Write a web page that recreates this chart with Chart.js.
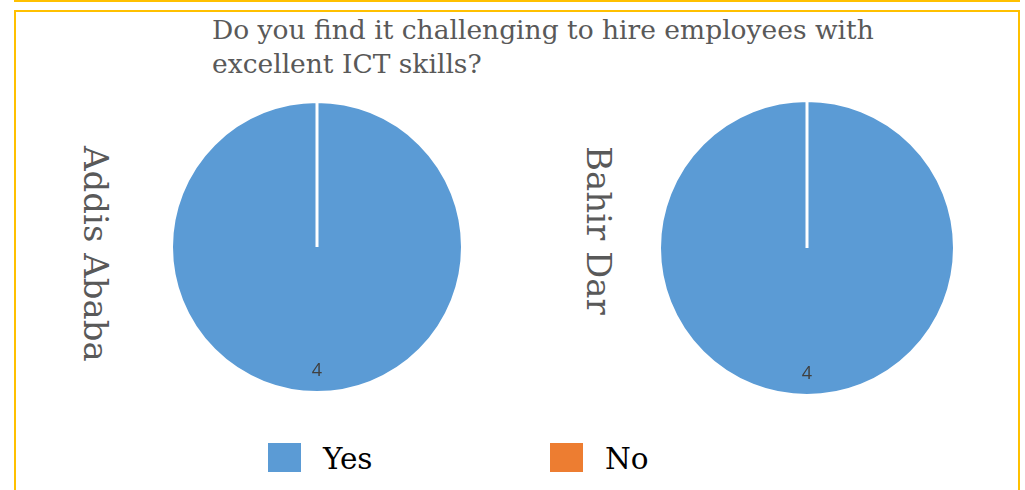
<!DOCTYPE html>
<html lang="en">
<head>
  <meta charset="UTF-8" />
  <title>Hiring ICT skills</title>
  <script src="https://cdn.jsdelivr.net/npm/chart.js"></script>
  <style>
    body { margin: 0; width: 1025px; height: 490px; overflow: hidden; background: #fff; position: relative; font-family: "DejaVu Serif", serif; }
    .frame { position: absolute; border: 2.5px solid #FFC000; box-sizing: border-box; }
    #prev-frame { left: 14px; top: -20px; width: 1006px; height: 22px; }
    #main-frame { left: 14px; top: 10px; width: 1006px; height: 500px; }
    #title { position: absolute; left: 212px; top: 13px; font-size: 26.5px; line-height: 34px; color: #595959; white-space: nowrap; }
    .city { position: absolute; writing-mode: vertical-rl; font-size: 34px; color: #595959; white-space: nowrap; }
    #city-0 { left: 76px; top: 146px; }
    #city-1 { left: 579px; top: 146px; }
    .pie { position: absolute; }
    #pie-0 { left: 167px; top: 97px; width: 300px; height: 300px; }
    #pie-1 { left: 655px; top: 96px; width: 304px; height: 304px; }
    #legend { position: absolute; top: 440px; left: 268px; display: flex; }
    .item { display: flex; align-items: center; width: 282px; }
    .swatch { width: 33px; height: 29px; margin-right: 22px; }
    .item span { font-size: 29.5px; color: #000; line-height: 29px; margin-top: 5px; }
  </style>
</head>
<body>
  <div class="frame" id="prev-frame"></div>
  <div class="frame" id="main-frame"></div>
  <div id="title">Do you find it challenging to hire employees with<br>excellent ICT skills?</div>
  <div class="city" id="city-0"></div>
  <div class="city" id="city-1"></div>
  <div class="pie" id="pie-0"><canvas></canvas></div>
  <div class="pie" id="pie-1"><canvas></canvas></div>
  <div id="legend"></div>

  <script>
    const answers = ['Yes', 'No'];
    const colors = ['#5B9BD5', '#ED7D31'];
    const cities = ['Addis Ababa', 'Bahir Dar'];
    const addisValues = [4, 0];
    const bahirValues = [4, 0];
    const cityValues = [addisValues, bahirValues];

    // value label inside each non-empty slice, near the rim
    const sliceLabels = {
      id: 'sliceLabels',
      afterDatasetsDraw(chart) {
        const ctx = chart.ctx;
        const meta = chart.getDatasetMeta(0);
        const data = chart.data.datasets[0].data;
        ctx.save();
        ctx.font = '18px "Open Sans", sans-serif';
        ctx.fillStyle = '#404040';
        ctx.textAlign = 'center';
        ctx.textBaseline = 'middle';
        meta.data.forEach((arc, i) => {
          if (!data[i]) return;
          const p = arc.getProps(['x', 'y', 'startAngle', 'endAngle', 'outerRadius'], true);
          const mid = (p.startAngle + p.endAngle) / 2;
          const r = p.outerRadius * 0.85;
          ctx.fillText(String(data[i]), p.x + Math.cos(mid) * r, p.y + Math.sin(mid) * r);
        });
        ctx.restore();
      }
    };

    cities.forEach((name, k) => {
      document.getElementById('city-' + k).textContent = name;
      new Chart(document.querySelector('#pie-' + k + ' canvas'), {
        type: 'pie',
        data: {
          labels: answers,
          datasets: [{
            data: cityValues[k],
            backgroundColor: colors,
            borderColor: '#fff',
            borderWidth: 3
          }]
        },
        options: {
          responsive: true,
          maintainAspectRatio: false,
          animation: false,
          layout: { padding: 3 },
          plugins: { legend: { display: false }, tooltip: { enabled: false } }
        },
        plugins: [sliceLabels]
      });
    });

    const legend = document.getElementById('legend');
    answers.forEach((a, i) => {
      legend.insertAdjacentHTML('beforeend',
        `<div class="item"><div class="swatch" style="background:${colors[i]}"></div><span>${a}</span></div>`);
    });
  </script>
</body>
</html>
